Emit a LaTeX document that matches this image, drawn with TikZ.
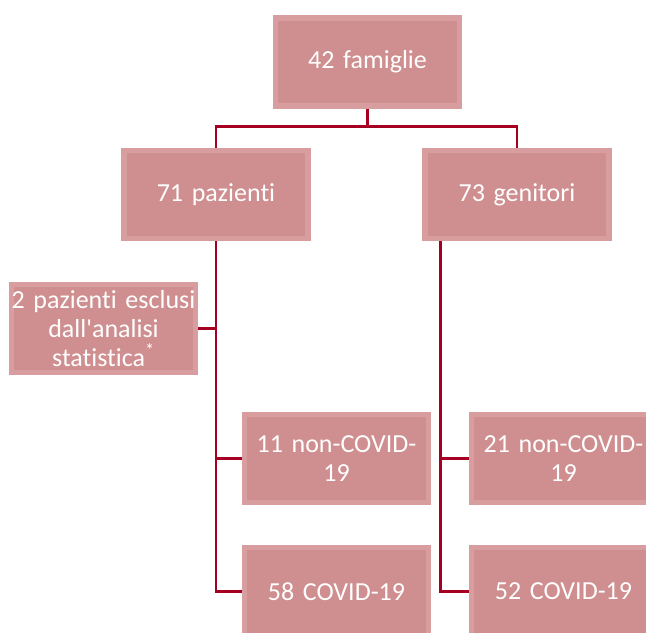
\documentclass[tikz,border=0pt]{standalone}
\usepackage{fontspec}
\setmainfont{Carlito}[Ligatures=NoCommon]
\usepackage{xcolor}
\usepackage{tikz}
\usetikzlibrary{positioning, calc}

\definecolor{boxfill}{RGB}{207,142,143}
\definecolor{boxedge}{RGB}{216,158,159}
\definecolor{linered}{RGB}{165,0,33}

\begin{document}
\begin{tikzpicture}[x=0.75pt, y=-0.75pt, font=\fontsize{19.5}{21.5}\selectfont]
    % Styles
    \tikzstyle{block} = [rectangle, fill=boxedge, text=white, minimum width=140pt, minimum height=70pt, text width=142pt, align=center, inner sep=0pt,
        path picture={\fill[boxfill] ([shift={(4pt,-4pt)}]path picture bounding box.north west) rectangle ([shift={(-4pt,4pt)}]path picture bounding box.south east);}]
    \tikzstyle{line} = [draw, linered, line width=2.2pt]

    \clip (0,0) rectangle (646,632);

    % Nodes
    \node [block] (fam) at (367.5,62) {42 famiglie};
    \node [block] (paz) at (216,194.5) {71 pazienti};
    \node [block] (gen) at (517,194.5) {73 genitori};
    \node [block] (excl) at (103.5,328.5) {2 pazienti esclusi\\dall\textquotesingle analisi\\statistica\textsuperscript{*}};
    \node [block] (pnon) at (336.5,458.5) {11 non-COVID-\\19};
    \node [block, below of=pnon, node distance=99.75pt] (pcov) {58 COVID-19};
    \node [block, right of=pnon, node distance=170.25pt] (gnon) {21 non-COVID-\\19};
    \node [block, below of=gnon, node distance=99.75pt] (gcov) {52 COVID-19};

    % Paths
    \path [line] (fam.south) -- ++(0,18) -| (paz.north);
    \path [line] (fam.south) -- ++(0,18) -| (gen.north);
    \path [line] (paz.south) |- (pcov.west);
    \path [line] (paz.south) |- (pnon.west);
    \path [line] (excl.east) -- (excl.east -| paz.south);
    \path [line] ([xshift=14pt]gen.south west) |- (gcov.west);
    \path [line] ([xshift=14pt]gen.south west) |- (gnon.west);
\end{tikzpicture}
\end{document}
